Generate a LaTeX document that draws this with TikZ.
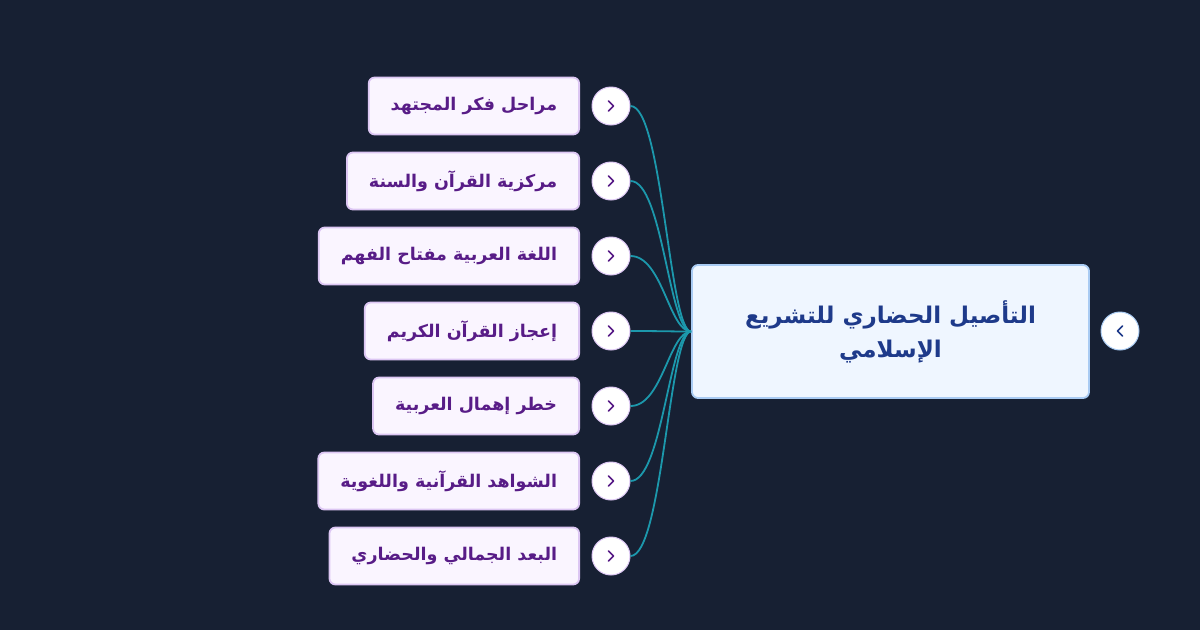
\documentclass[tikz,border=0pt]{standalone}
\usepackage{fontspec}
\TeXXeTstate=1
\newfontfamily\arabicfont[Script=Arabic]{DejaVu Sans}

\definecolor{bgnavy}{HTML}{172033}
\definecolor{rootfill}{HTML}{EFF6FF}
\definecolor{rootline}{HTML}{A9CBF3}
\definecolor{roottext}{HTML}{1E3A8A}
\definecolor{kidfill}{HTML}{FAF5FF}
\definecolor{kidline}{HTML}{DCC6F3}
\definecolor{kidtext}{HTML}{581C87}
\definecolor{linkteal}{HTML}{1C98AC}

\begin{document}
\begin{tikzpicture}[x=1pt, y=-1pt,
    root/.style={rectangle, rounded corners=6pt, draw=rootline, fill=rootfill,
      line width=1.8pt, minimum width=397pt, minimum height=133pt,
      align=center, text=roottext,
      font=\arabicfont\bfseries\fontsize{23}{34}\selectfont},
    kid/.style={rectangle, rounded corners=6pt, draw=kidline, fill=kidfill,
      line width=1.8pt, minimum height=57pt, inner xsep=22pt, anchor=east,
      text=kidtext, font=\arabicfont\bfseries\fontsize{17.5}{20}\selectfont},
    toggle/.style={circle, draw=kidline, fill=white, line width=1pt,
      minimum size=38pt, inner sep=0pt},
    chev/.style={line width=1.5pt, line cap=round, line join=round},
    link/.style={draw=linkteal, line width=1.8pt}
  ]
    % fondo
    \fill[bgnavy] (0,0) rectangle (1200,630);
    \useasboundingbox (0,0) rectangle (1200,630);

    % raiz
    \node[root] (root) at (890.5,331.5)
      {\beginR التأصيل الحضاري للتشريع\endR\\\beginR الإسلامي\endR};
    \node[toggle, draw=rootline] (rootk) at (1120,331) {};
    \draw[chev, roottext] ([shift={(2.5,-5)}]rootk.center) -- ++(-5,5) -- ++(5,5);

    % ramas
    \node[kid] (c1) at (580,106) {\beginR مراحل فكر المجتهد\endR};
    \node[kid] (c2) at (580,181) {\beginR مركزية القرآن والسنة\endR};
    \node[kid] (c3) at (580,256) {\beginR اللغة العربية مفتاح الفهم\endR};
    \node[kid] (c4) at (580,331) {\beginR إعجاز القرآن الكريم\endR};
    \node[kid] (c5) at (580,406) {\beginR خطر إهمال العربية\endR};
    \node[kid] (c6) at (580,481) {\beginR الشواهد القرآنية واللغوية\endR};
    \node[kid] (c7) at (580,556) {\beginR البعد الجمالي والحضاري\endR};

    % botones y enlaces
    \foreach \i/\y in {1/106, 2/181, 3/256, 4/331, 5/406, 6/481, 7/556} {
      \node[toggle] (k\i) at (611,\y) {};
      \draw[chev, kidtext] ([shift={(-2.5,-5)}]k\i.center) -- ++(5,5) -- ++(-5,5);
      \draw[link] (k\i.east) .. controls +(32,0) and +(-22,0) .. (root.west);
    }
  \end{tikzpicture}
\end{document}
